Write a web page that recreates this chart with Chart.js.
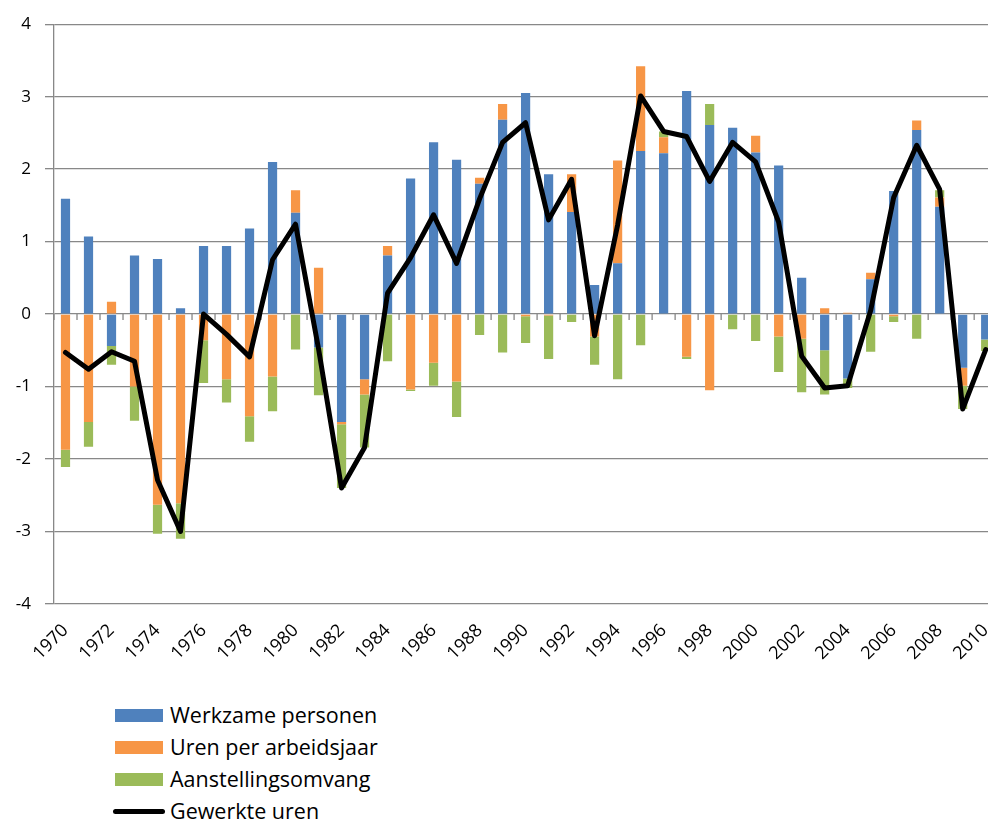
<!DOCTYPE html>
<html>
<head>
<meta charset="utf-8">
<script src="https://cdn.jsdelivr.net/npm/chart.js@4.4.0/dist/chart.umd.min.js"></script>
<style>
  html, body { margin: 0; padding: 0; background: #fff; overflow: hidden; }
  #wrap { position: relative; width: 1009px; height: 690px; }
  #legend { position: absolute; left: 113px; top: 699px; font-family: 'Open Sans', sans-serif; font-size: 21.5px; color: #000; line-height: 32px; }
  .lg-row { display: flex; align-items: center; height: 32px; }
  .lg-box { width: 48px; height: 13px; margin: 0 7px 0 2px; }
  .lg-line { width: 52px; height: 5px; border-radius: 3px; margin-right: 5px; }
</style>
</head>
<body>
<div id="wrap"><canvas id="chart"></canvas></div>
<div id="legend"></div>
<script>
// ── data ─────────────────────────────────────
const years = ['1970','1971','1972','1973','1974','1975','1976','1977','1978','1979',
  '1980','1981','1982','1983','1984','1985','1986','1987','1988','1989',
  '1990','1991','1992','1993','1994','1995','1996','1997','1998','1999',
  '2000','2001','2002','2003','2004','2005','2006','2007','2008','2009','2010'];

const werkzame = [1.59, 1.07, -0.44, 0.81, 0.76, 0.08, 0.94, 0.94, 1.18, 2.10,
  1.40, -0.46, -1.49, -0.90, 0.81, 1.87, 2.37, 2.13, 1.80, 2.68,
  3.05, 1.93, 1.41, 0.40, 0.70, 2.25, 2.22, 3.08, 2.61, 2.57,
  2.23, 2.05, 0.50, -0.50, -0.89, 0.48, 1.70, 2.54, 1.48, -0.74, -0.35];

const urenPerJaar = [-1.87, -1.49, 0.17, -1.00, -2.63, -2.61, -0.36, -0.90, -1.41, -0.86,
  0.31, 0.64, -0.03, -0.21, 0.13, -1.04, -0.67, -0.93, 0.08, 0.22,
  -0.03, -0.02, 0.52, -0.31, 1.42, 1.17, 0.22, -0.59, -1.05, 0.00,
  0.23, -0.31, -0.34, 0.08, 0.02, 0.09, -0.03, 0.13, 0.13, -0.25, 0.01];

const aanstelling = [-0.24, -0.34, -0.26, -0.47, -0.40, -0.49, -0.59, -0.32, -0.35, -0.48,
  -0.49, -0.66, -0.88, -0.73, -0.65, -0.02, -0.32, -0.49, -0.29, -0.53,
  -0.37, -0.60, -0.11, -0.39, -0.90, -0.43, 0.08, -0.03, 0.29, -0.21,
  -0.37, -0.49, -0.74, -0.61, -0.13, -0.52, -0.08, -0.34, 0.10, -0.32, -0.16];

const gewerkt = [-0.53, -0.76, -0.52, -0.65, -2.29, -3.00, 0.00, -0.28, -0.59, 0.75,
  1.24, -0.48, -2.40, -1.84, 0.29, 0.78, 1.37, 0.70, 1.59, 2.37,
  2.64, 1.30, 1.86, -0.30, 1.23, 3.01, 2.52, 2.45, 1.83, 2.37,
  2.10, 1.27, -0.58, -1.02, -0.99, 0.05, 1.61, 2.33, 1.72, -1.31, -0.49];

const GRID = '#888888';
const FONT = "'Open Sans', sans-serif";

// small tick marks on the zero line between the categories
const zeroTicks = {
  id: 'zeroTicks',
  beforeDatasetsDraw(chart) {
    const { ctx, scales: { x, y } } = chart;
    const y0 = y.getPixelForValue(0);
    const step = x.width / years.length;
    ctx.save();
    ctx.strokeStyle = GRID; ctx.lineWidth = 1.3;
    ctx.beginPath();
    for (let i = 0; i <= years.length; i++) {
      const px = x.left + i * step;
      ctx.moveTo(px, y0); ctx.lineTo(px, y0 + 6);
    }
    ctx.stroke();
    ctx.restore();
  }
};

const bar = (label, data, color) => ({
  type: 'bar', label, data, backgroundColor: color, borderWidth: 0,
  stack: 'comp', barPercentage: 0.4, categoryPercentage: 1
});

const chart = new Chart(document.getElementById('chart'), {
  data: {
    labels: years,
    datasets: [
      bar('Werkzame personen', werkzame, '#4F81BD'),
      bar('Uren per arbeidsjaar', urenPerJaar, '#F79646'),
      bar('Aanstellingsomvang', aanstelling, '#9BBB59'),
      {
        type: 'line', label: 'Gewerkte uren', data: gewerkt, stack: 'line', order: -1,
        borderColor: '#000', backgroundColor: '#000', borderWidth: 5,
        pointRadius: 0, tension: 0, borderJoinStyle: 'round', borderCapStyle: 'round'
      }
    ]
  },
  options: {
    responsive: true, maintainAspectRatio: false, animation: false,
    layout: { padding: { top: 21, right: 3, left: 0, bottom: 0 } },
    plugins: { legend: { display: false }, tooltip: { enabled: false } },
    scales: {
      x: {
        stacked: true,
        grid: { display: false }, border: { display: false },
        ticks: {
          autoSkip: false, minRotation: 45, maxRotation: 45, padding: 8,
          color: '#000', font: { family: FONT, size: 18 },
          callback: (v, i) => (i % 2 === 0 ? years[i] : '')
        },
        afterFit: s => { s.height = 86; }
      },
      y: {
        stacked: true, min: -4, max: 4,
        ticks: { stepSize: 1, padding: 14, color: '#000', font: { family: FONT, size: 17 } },
        grid: { color: GRID, lineWidth: 1.3, tickLength: 9, tickColor: GRID },
        border: { color: GRID, width: 1.3 },
        afterFit: s => { s.width = 54; }
      }
    }
  },
  plugins: [zeroTicks]
});

// vertical legend below the chart
const legendEl = document.getElementById('legend');
chart.data.datasets.forEach(ds => {
  const row = document.createElement('div');
  row.className = 'lg-row';
  const mark = document.createElement('span');
  mark.className = ds.type === 'line' ? 'lg-line' : 'lg-box';
  mark.style.background = ds.type === 'line' ? ds.borderColor : ds.backgroundColor;
  row.appendChild(mark);
  row.appendChild(document.createTextNode(ds.label));
  legendEl.appendChild(row);
});
</script>
</body>
</html>
